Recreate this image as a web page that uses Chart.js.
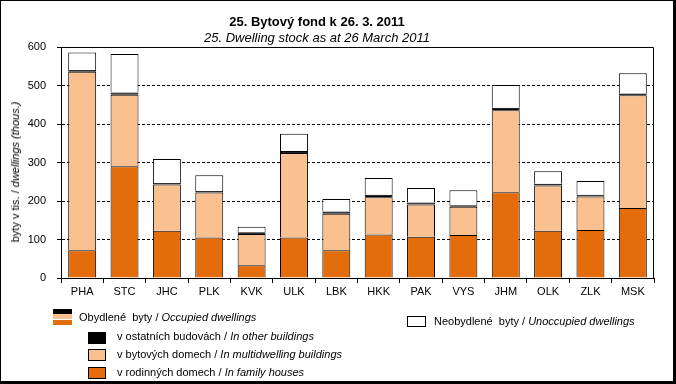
<!DOCTYPE html>
<html>
<head>
<meta charset="utf-8">
<script src="https://cdn.jsdelivr.net/npm/chart.js@4/dist/chart.umd.min.js"></script>
<style>
  body { margin:0; background:#fff; font-family:"Liberation Sans", Arial, sans-serif; }
  #frame { position:relative; width:676px; height:384px; box-sizing:border-box;
           border-left:1px solid #000; border-top:1px solid #000;
           border-right:3px solid #000; border-bottom:3px solid #000; overflow:hidden; }
  #chart { position:absolute; left:-1px; top:-1px; }
  .txt { position:absolute; white-space:nowrap; font-size:11px; color:#000; }
  .box { position:absolute; box-sizing:border-box; border:1px solid #000; }
  i { font-style:italic; }
</style>
</head>
<body>
<div id="frame">
  <canvas id="chart" width="676" height="384"></canvas>
  <div class="txt" style="left:216px;width:200px;text-align:center;top:13px;font-size:13px;font-weight:bold;">25. Bytový fond k 26. 3. 2011</div>
  <div class="txt" style="left:166px;width:300px;text-align:center;top:29px;font-size:13px;"><i>25. Dwelling stock as at 26 March 2011</i></div>
  <div class="txt" id="ytitle" style="left:14px;top:171px;transform:translate(-50%,-50%) rotate(-90deg);">byty v tis. / <i>dwellings (thous.)</i></div>

  <!-- legend -->
  <div class="box" style="left:52px;top:308px;width:19px;height:5px;background:#000;border:none;"></div>
  <div class="box" style="left:52px;top:313px;width:19px;height:5px;background:#FAC090;border:none;"></div>
  <div class="box" style="left:52px;top:319px;width:19px;height:5px;background:#E46C0A;border:none;"></div>
  <div class="txt" style="left:78px;top:310px;">Obydlené&nbsp; byty / <i>Occupied dwellings</i></div>
  <div class="box" style="left:87px;top:331px;width:18px;height:12px;background:#000;"></div>
  <div class="txt" style="left:116px;top:329px;">v ostatních budovách / <i>In other buildings</i></div>
  <div class="box" style="left:87px;top:348px;width:18px;height:12px;background:#FAC090;"></div>
  <div class="txt" style="left:116px;top:347px;">v bytových domech / <i>In multidwelling buildings</i></div>
  <div class="box" style="left:87px;top:366px;width:18px;height:12px;background:#E46C0A;"></div>
  <div class="txt" style="left:116px;top:365px;">v rodinných domech / <i>In family houses</i></div>
  <div class="box" style="left:406px;top:315px;width:19px;height:11px;background:#fff;"></div>
  <div class="txt" style="left:433px;top:314px;">Neobydlené&nbsp; byty / <i>Unoccupied dwellings</i></div>
</div>
<script>
// regions (kraje)
var Regions = ['PHA','STC','JHC','PLK','KVK','ULK','LBK','HKK','PAK','VYS','JHM','OLK','ZLK','MSK'];
// dwellings, thousands
var FamilyHouses = [72, 290, 123, 105, 33, 105, 72, 113, 107, 112, 223, 123, 125, 182];
var MultiDwelling = [464, 186, 120, 117, 81, 220, 95, 97, 84, 73, 213, 117, 87, 293];
var OtherBuildings = [4, 6, 4, 4, 5, 5, 6, 6, 5, 4, 6, 5, 4, 4];
var Unoccupied = [46, 100, 62, 41, 14, 45, 32, 44, 38, 39, 59, 32, 36, 53];
var YTicks = [0, 100, 200, 300, 400, 500, 600];

const FontName = '"Liberation Sans", Arial, sans-serif';

//______________________________________________________
var plotBorder = {
    id: 'plotBorder',
    afterDraw(chart) {
        var a = chart.chartArea, ctx = chart.ctx;
        ctx.save();
        ctx.strokeStyle = '#000';
        ctx.lineWidth = 1;
        ctx.setLineDash([]);
        ctx.beginPath();
        ctx.moveTo(a.left, a.top + 0.5);
        ctx.lineTo(a.right - 0.5, a.top + 0.5);
        ctx.lineTo(a.right - 0.5, a.bottom);
        ctx.stroke();
        ctx.restore();
    }
};

function ds(label, data, color) {
    return { label: label, data: data, backgroundColor: color, borderColor: '#000',
             borderWidth: 1, barPercentage: 0.66, categoryPercentage: 1 };
}

new Chart(document.getElementById('chart'), {
    type: 'bar',
    data: {
        labels: Regions,
        datasets: [
            ds('v rodinných domech', FamilyHouses, '#E46C0A'),
            ds('v bytových domech', MultiDwelling, '#FAC090'),
            ds('v ostatních budovách', OtherBuildings, '#000000'),
            ds('Neobydlené byty', Unoccupied, '#FFFFFF')
        ]
    },
    options: {
        responsive: false,
        animation: false,
        layout: { padding: { left: 0, right: 22, top: 47, bottom: 86 } },
        plugins: { legend: { display: false }, tooltip: { enabled: false } },
        scales: {
            x: {
                stacked: true,
                afterFit: function (s) { s.height = 20; },
                grid: { offset: true, drawOnChartArea: false, color: '#000', tickLength: 5 },
                border: { color: '#000' },
                ticks: { color: '#000', font: { family: FontName, size: 11 }, padding: 2 }
            },
            y: {
                stacked: true,
                min: 0, max: 600,
                afterFit: function (s) { s.width = 61; },
                afterBuildTicks: function (s) { s.ticks = YTicks.map(function (v) { return { value: v }; }); },
                grid: {
                    color: function (c) { return (c.tick.value > 0 && c.tick.value < 600) ? '#000' : 'rgba(0,0,0,0)'; },
                    tickColor: '#000',
                    tickBorderDash: [],
                    tickLength: 4
                },
                border: { color: '#000', dash: [3, 2] },
                ticks: { color: '#000', font: { family: FontName, size: 11 }, padding: 11 }
            }
        }
    },
    plugins: [plotBorder]
});
</script>
</body>
</html>
